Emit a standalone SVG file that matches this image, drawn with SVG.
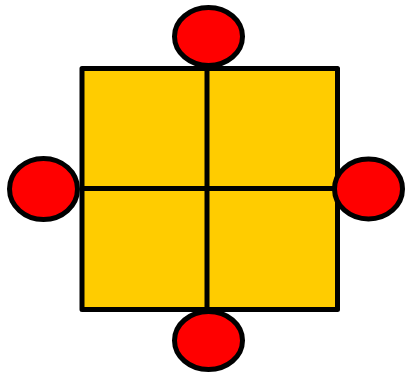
<svg xmlns="http://www.w3.org/2000/svg" width="407" height="376" viewBox="0 0 407 376">
<style>
.sq{fill:#ffcc00;stroke:#000;stroke-width:5;stroke-linejoin:round}
.ln{stroke:#000;stroke-width:5;fill:none}
.nd{fill:#ff0000;stroke:#000;stroke-width:5}
</style>
<rect width="407" height="376" fill="#fff"/>
<g id="square">
<rect class="sq" x="82" y="68.5" width="255.5" height="241"/>
</g>
<g id="connectors">
<line class="ln" x1="207" y1="68.5" x2="207" y2="309.5"/>
<line class="ln" x1="82" y1="188.5" x2="337.5" y2="188.5"/>
</g>
<g id="node-top"><ellipse class="nd" cx="208.5" cy="36.5" rx="34" ry="29"/></g>
<g id="node-left"><ellipse class="nd" cx="43.5" cy="189" rx="34" ry="30.5"/></g>
<g id="node-right"><ellipse class="nd" cx="368.5" cy="189" rx="34" ry="30"/></g>
<g id="node-bottom"><ellipse class="nd" cx="208.5" cy="340.5" rx="34" ry="29"/></g>
</svg>
